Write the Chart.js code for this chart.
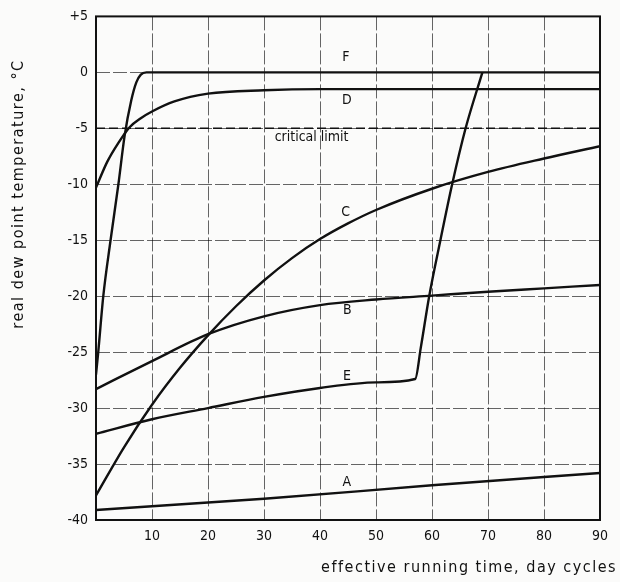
<!DOCTYPE html>
<html>
<head>
<meta charset="utf-8">
<script src="https://cdn.jsdelivr.net/npm/chart.js@4.4.1/dist/chart.umd.min.js"></script>
<style>
  html, body { margin: 0; padding: 0; background: #fbfbfa; }
  #wrap { width: 620px; height: 582px; position: relative; }
</style>
</head>
<body>
<div id="wrap"><canvas id="dewChart" width="620" height="582"></canvas></div>
<script>
// Dew point vs running time — curves

const xTicks = [0, 10, 20, 30, 40, 50, 60, 70, 80, 90];
const yTicks = [5, 0, -5, -10, -15, -20, -25, -30, -35, -40];

const aX = [0, 30, 60, 90];
const aY = [-39.1, -38.1, -36.9, -35.8];

const bX = [0, 10, 20, 30, 40, 50, 60, 70, 80, 90];
const bY = [-28.3, -25.8, -23.4, -21.8, -20.8, -20.3, -19.95, -19.6, -19.3, -19.0];

const cX = [0, 5, 10, 15, 20, 25, 30, 35, 40, 45, 50, 60, 70, 80, 90];
const cY = [-37.8, -33.5, -29.7, -26.4, -23.5, -20.9, -18.6, -16.6, -14.9, -13.5, -12.3, -10.4, -8.9, -7.7, -6.6];

const dX = [0, 2, 4, 6, 8, 10, 14, 20, 30, 40, 90];
const dY = [-10.3, -8.0, -6.3, -4.9, -4.1, -3.5, -2.6, -1.9, -1.6, -1.5, -1.5];

const eX = [0, 10, 20, 30, 40, 50, 57, 58, 59.5, 61.5, 63.6, 66, 69];
const eY = [-32.3, -31.0, -30.0, -29.0, -28.2, -27.7, -27.4, -24.6, -20.0, -15.0, -10.0, -5.0, 0];

const fX = [0, 0.4, 1.3, 2.6, 4.0, 5.1, 6.3, 7.2, 8.0, 9, 90];
const fY = [-27, -25, -20, -15, -10, -5.7, -2.5, -0.9, -0.2, 0, 0];

const limitX = [0, 90];
const limitY = [-5, -5];

const curveNames = ['F', 'D', 'C', 'B', 'E', 'A', 'critical limit'];
const nameX = [44.6, 44.8, 44.6, 44.9, 44.8, 44.8, 38.5];
const nameY = [1.3, -2.5, -12.5, -21.3, -27.2, -36.6, -5.8];

const FONT = '"DejaVu Sans Condensed", "DejaVu Sans", sans-serif';

document.addEventListener('DOMContentLoaded', () => {
  initDewChart();
});

function toPoints(xs, ys) {
  return xs.map((x, i) => ({ x: x, y: ys[i] }));
}

function curve(xs, ys) {
  return {
    data: toPoints(xs, ys),
    showLine: true,
    borderColor: '#111',
    borderWidth: 2.4,
    pointRadius: 0,
    cubicInterpolationMode: 'monotone',
    fill: false
  };
}

// frame, curve letters and axis titles
const decorations = {
  id: 'decorations',
  beforeDraw(chart) {
    const c = chart.ctx;
    c.save();
    c.fillStyle = '#fbfbfa';
    c.fillRect(0, 0, chart.width, chart.height);
    c.restore();
  },
  afterDraw(chart) {
    const c = chart.ctx;
    const area = chart.chartArea;
    const xs = chart.scales.x;
    const ys = chart.scales.y;

    c.save();
    c.strokeStyle = '#111';
    c.lineWidth = 2;
    c.strokeRect(area.left, area.top, area.right - area.left, area.bottom - area.top);

    c.fillStyle = '#111';
    c.font = '14px ' + FONT;
    c.textAlign = 'center';
    c.textBaseline = 'middle';
    curveNames.forEach((name, i) => {
      c.fillText(name, xs.getPixelForValue(nameX[i]), ys.getPixelForValue(nameY[i]));
    });

    c.font = '16px ' + FONT;
    c.letterSpacing = '1.5px';
    c.textAlign = 'right';
    c.fillText('effective running time, day cycles', 617, 568);

    c.translate(19, 194);
    c.rotate(-Math.PI / 2);
    c.textAlign = 'center';
    c.fillText('real dew point temperature, \u00b0C', 0, 0);
    c.restore();
  }
};

function initDewChart() {
  const ctx = document.getElementById('dewChart').getContext('2d');

  const limit = curve(limitX, limitY);
  limit.borderDash = [9, 4];
  limit.borderWidth = 1.6;
  limit.cubicInterpolationMode = 'default';

  new Chart(ctx, {
    type: 'scatter',
    data: {
      datasets: [
        curve(aX, aY),
        curve(bX, bY),
        curve(cX, cY),
        curve(dX, dY),
        curve(eX, eY),
        curve(fX, fY),
        limit
      ]
    },
    options: {
      responsive: false,
      animation: false,
      layout: {
        padding: { top: 13, right: 20, left: 0, bottom: 0 }
      },
      plugins: {
        legend: { display: false },
        tooltip: { enabled: false }
      },
      scales: {
        x: {
          type: 'linear',
          min: 0,
          max: 90,
          afterFit(scale) { scale.height = 62; },
          afterBuildTicks(scale) { scale.ticks = xTicks.map(v => ({ value: v })); },
          grid: {
            color: 'rgba(0, 0, 0, 0.6)',
            lineWidth: 1,
            drawTicks: false
          },
          border: { display: false, dash: [14, 3] },
          ticks: {
            color: '#111',
            padding: 8,
            font: { family: FONT, size: 14 },
            callback: v => (v === 0 ? '' : String(v))
          }
        },
        y: {
          type: 'linear',
          min: -40,
          max: 5,
          afterFit(scale) { scale.width = 96; },
          afterBuildTicks(scale) { scale.ticks = yTicks.map(v => ({ value: v })); },
          grid: {
            color: 'rgba(0, 0, 0, 0.6)',
            lineWidth: 1,
            drawTicks: false
          },
          border: { display: false, dash: [14, 3] },
          ticks: {
            color: '#111',
            padding: 8,
            font: { family: FONT, size: 14 },
            callback: v => (v > 0 ? '+' + v : String(v))
          }
        }
      }
    },
    plugins: [decorations]
  });
}
</script>
</body>
</html>
